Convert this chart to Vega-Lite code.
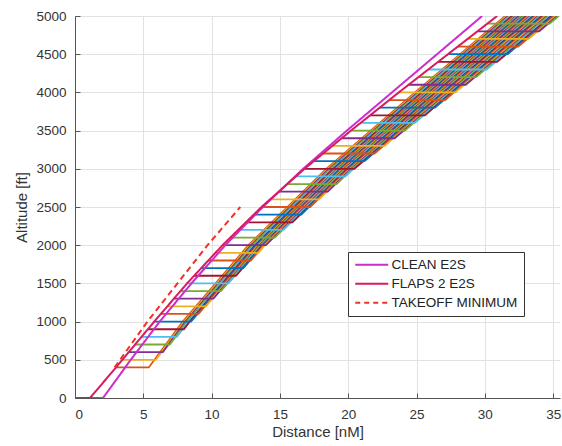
{
"$schema":"https://vega.github.io/schema/vega-lite/v6.json",
"width":485,"height":382,
"autosize":{"type":"none"},
"padding":{"left":75,"top":16,"right":2,"bottom":48},
"background":"white",
"config":{
 "view":{"stroke":null},
 "font":"Liberation Sans",
 "axis":{"grid":true,"gridColor":"#e2e2e2","gridWidth":1,"domainColor":"#555555","tickColor":"#555555","tickSize":-5,"labelPadding":14,"labelFontSize":13.5,"labelColor":"#333333","titleFontSize":15,"titleFontWeight":"normal","titleColor":"#333333","labelFont":"Liberation Sans","titleFont":"Liberation Sans"},
 "legend":{"orient":"none","legendX":273,"legendY":236,"fillColor":"white","strokeColor":"#333333","strokeWidth":1,"padding":6,"symbolType":"M-3,0H3","symbolSize":121,"symbolOffset":11,"symbolStrokeWidth":2,"labelFontSize":13.5,"labelColor":"#222222","labelFont":"Liberation Sans","labelOffset":13,"rowPadding":4}
},
"datasets":{
"fam":[
{"s":400,"o":0,"x":3.0,"y":400},{"s":400,"o":1,"x":5.40,"y":400},{"s":400,"o":2,"x":7.89,"y":1000},{"s":400,"o":3,"x":12.69,"y":2000},{"s":400,"o":4,"x":18.39,"y":3000},{"s":400,"o":5,"x":24.89,"y":4000},{"s":400,"o":6,"x":31.49,"y":5000},
{"s":500,"o":0,"x":3.47,"y":500},{"s":500,"o":1,"x":5.92,"y":500},{"s":500,"o":2,"x":7.99,"y":1000},{"s":500,"o":3,"x":12.79,"y":2000},{"s":500,"o":4,"x":18.49,"y":3000},{"s":500,"o":5,"x":24.99,"y":4000},{"s":500,"o":6,"x":31.59,"y":5000},
{"s":600,"o":0,"x":3.93,"y":600},{"s":600,"o":1,"x":6.43,"y":600},{"s":600,"o":2,"x":8.09,"y":1000},{"s":600,"o":3,"x":12.89,"y":2000},{"s":600,"o":4,"x":18.59,"y":3000},{"s":600,"o":5,"x":25.09,"y":4000},{"s":600,"o":6,"x":31.69,"y":5000},
{"s":700,"o":0,"x":4.40,"y":700},{"s":700,"o":1,"x":6.94,"y":700},{"s":700,"o":2,"x":8.19,"y":1000},{"s":700,"o":3,"x":12.99,"y":2000},{"s":700,"o":4,"x":18.69,"y":3000},{"s":700,"o":5,"x":25.19,"y":4000},{"s":700,"o":6,"x":31.79,"y":5000},
{"s":800,"o":0,"x":4.87,"y":800},{"s":800,"o":1,"x":7.46,"y":800},{"s":800,"o":2,"x":8.29,"y":1000},{"s":800,"o":3,"x":13.09,"y":2000},{"s":800,"o":4,"x":18.79,"y":3000},{"s":800,"o":5,"x":25.29,"y":4000},{"s":800,"o":6,"x":31.89,"y":5000},
{"s":900,"o":0,"x":5.33,"y":900},{"s":900,"o":1,"x":7.97,"y":900},{"s":900,"o":2,"x":8.39,"y":1000},{"s":900,"o":3,"x":13.19,"y":2000},{"s":900,"o":4,"x":18.89,"y":3000},{"s":900,"o":5,"x":25.39,"y":4000},{"s":900,"o":6,"x":31.99,"y":5000},
{"s":1000,"o":0,"x":5.80,"y":1000},{"s":1000,"o":1,"x":8.49,"y":1000},{"s":1000,"o":3,"x":13.29,"y":2000},{"s":1000,"o":4,"x":18.99,"y":3000},{"s":1000,"o":5,"x":25.49,"y":4000},{"s":1000,"o":6,"x":32.09,"y":5000},
{"s":1100,"o":0,"x":6.28,"y":1100},{"s":1100,"o":1,"x":9.04,"y":1100},{"s":1100,"o":3,"x":13.36,"y":2000},{"s":1100,"o":4,"x":19.06,"y":3000},{"s":1100,"o":5,"x":25.56,"y":4000},{"s":1100,"o":6,"x":32.16,"y":5000},
{"s":1200,"o":0,"x":6.76,"y":1200},{"s":1200,"o":1,"x":9.58,"y":1200},{"s":1200,"o":3,"x":13.42,"y":2000},{"s":1200,"o":4,"x":19.12,"y":3000},{"s":1200,"o":5,"x":25.62,"y":4000},{"s":1200,"o":6,"x":32.22,"y":5000},
{"s":1300,"o":0,"x":7.24,"y":1300},{"s":1300,"o":1,"x":10.13,"y":1300},{"s":1300,"o":3,"x":13.49,"y":2000},{"s":1300,"o":4,"x":19.19,"y":3000},{"s":1300,"o":5,"x":25.69,"y":4000},{"s":1300,"o":6,"x":32.29,"y":5000},
{"s":1400,"o":0,"x":7.72,"y":1400},{"s":1400,"o":1,"x":10.68,"y":1400},{"s":1400,"o":3,"x":13.56,"y":2000},{"s":1400,"o":4,"x":19.26,"y":3000},{"s":1400,"o":5,"x":25.76,"y":4000},{"s":1400,"o":6,"x":32.36,"y":5000},
{"s":1500,"o":0,"x":8.20,"y":1500},{"s":1500,"o":1,"x":11.23,"y":1500},{"s":1500,"o":3,"x":13.63,"y":2000},{"s":1500,"o":4,"x":19.33,"y":3000},{"s":1500,"o":5,"x":25.83,"y":4000},{"s":1500,"o":6,"x":32.43,"y":5000},
{"s":1600,"o":0,"x":8.72,"y":1600},{"s":1600,"o":1,"x":11.78,"y":1600},{"s":1600,"o":3,"x":13.70,"y":2000},{"s":1600,"o":4,"x":19.40,"y":3000},{"s":1600,"o":5,"x":25.90,"y":4000},{"s":1600,"o":6,"x":32.50,"y":5000},
{"s":1700,"o":0,"x":9.24,"y":1700},{"s":1700,"o":1,"x":12.32,"y":1700},{"s":1700,"o":3,"x":13.76,"y":2000},{"s":1700,"o":4,"x":19.46,"y":3000},{"s":1700,"o":5,"x":25.96,"y":4000},{"s":1700,"o":6,"x":32.56,"y":5000},
{"s":1800,"o":0,"x":9.76,"y":1800},{"s":1800,"o":1,"x":12.87,"y":1800},{"s":1800,"o":3,"x":13.83,"y":2000},{"s":1800,"o":4,"x":19.53,"y":3000},{"s":1800,"o":5,"x":26.03,"y":4000},{"s":1800,"o":6,"x":32.63,"y":5000},
{"s":1900,"o":0,"x":10.28,"y":1900},{"s":1900,"o":1,"x":13.42,"y":1900},{"s":1900,"o":3,"x":13.90,"y":2000},{"s":1900,"o":4,"x":19.60,"y":3000},{"s":1900,"o":5,"x":26.10,"y":4000},{"s":1900,"o":6,"x":32.70,"y":5000},
{"s":2000,"o":0,"x":10.80,"y":2000},{"s":2000,"o":1,"x":13.97,"y":2000},{"s":2000,"o":4,"x":19.67,"y":3000},{"s":2000,"o":5,"x":26.17,"y":4000},{"s":2000,"o":6,"x":32.77,"y":5000},
{"s":2100,"o":0,"x":11.37,"y":2100},{"s":2100,"o":1,"x":14.62,"y":2100},{"s":2100,"o":4,"x":19.75,"y":3000},{"s":2100,"o":5,"x":26.25,"y":4000},{"s":2100,"o":6,"x":32.85,"y":5000},
{"s":2200,"o":0,"x":11.94,"y":2200},{"s":2200,"o":1,"x":15.26,"y":2200},{"s":2200,"o":4,"x":19.82,"y":3000},{"s":2200,"o":5,"x":26.32,"y":4000},{"s":2200,"o":6,"x":32.92,"y":5000},
{"s":2300,"o":0,"x":12.51,"y":2300},{"s":2300,"o":1,"x":15.91,"y":2300},{"s":2300,"o":4,"x":19.90,"y":3000},{"s":2300,"o":5,"x":26.40,"y":4000},{"s":2300,"o":6,"x":33.00,"y":5000},
{"s":2400,"o":0,"x":13.08,"y":2400},{"s":2400,"o":1,"x":16.56,"y":2400},{"s":2400,"o":4,"x":19.98,"y":3000},{"s":2400,"o":5,"x":26.48,"y":4000},{"s":2400,"o":6,"x":33.08,"y":5000},
{"s":2500,"o":0,"x":13.65,"y":2500},{"s":2500,"o":1,"x":17.21,"y":2500},{"s":2500,"o":4,"x":20.06,"y":3000},{"s":2500,"o":5,"x":26.56,"y":4000},{"s":2500,"o":6,"x":33.16,"y":5000},
{"s":2600,"o":0,"x":14.28,"y":2600},{"s":2600,"o":1,"x":17.86,"y":2600},{"s":2600,"o":4,"x":20.14,"y":3000},{"s":2600,"o":5,"x":26.64,"y":4000},{"s":2600,"o":6,"x":33.24,"y":5000},
{"s":2700,"o":0,"x":14.91,"y":2700},{"s":2700,"o":1,"x":18.50,"y":2700},{"s":2700,"o":4,"x":20.21,"y":3000},{"s":2700,"o":5,"x":26.71,"y":4000},{"s":2700,"o":6,"x":33.31,"y":5000},
{"s":2800,"o":0,"x":15.54,"y":2800},{"s":2800,"o":1,"x":19.15,"y":2800},{"s":2800,"o":4,"x":20.29,"y":3000},{"s":2800,"o":5,"x":26.79,"y":4000},{"s":2800,"o":6,"x":33.39,"y":5000},
{"s":2900,"o":0,"x":16.17,"y":2900},{"s":2900,"o":1,"x":19.80,"y":2900},{"s":2900,"o":4,"x":20.37,"y":3000},{"s":2900,"o":5,"x":26.87,"y":4000},{"s":2900,"o":6,"x":33.47,"y":5000},
{"s":3000,"o":0,"x":16.80,"y":3000},{"s":3000,"o":1,"x":20.45,"y":3000},{"s":3000,"o":5,"x":26.95,"y":4000},{"s":3000,"o":6,"x":33.55,"y":5000},
{"s":3100,"o":0,"x":17.48,"y":3100},{"s":3100,"o":1,"x":21.19,"y":3100},{"s":3100,"o":5,"x":27.04,"y":4000},{"s":3100,"o":6,"x":33.64,"y":5000},
{"s":3200,"o":0,"x":18.16,"y":3200},{"s":3200,"o":1,"x":21.92,"y":3200},{"s":3200,"o":5,"x":27.12,"y":4000},{"s":3200,"o":6,"x":33.72,"y":5000},
{"s":3300,"o":0,"x":18.84,"y":3300},{"s":3300,"o":1,"x":22.66,"y":3300},{"s":3300,"o":5,"x":27.21,"y":4000},{"s":3300,"o":6,"x":33.81,"y":5000},
{"s":3400,"o":0,"x":19.52,"y":3400},{"s":3400,"o":1,"x":23.40,"y":3400},{"s":3400,"o":5,"x":27.30,"y":4000},{"s":3400,"o":6,"x":33.90,"y":5000},
{"s":3500,"o":0,"x":20.20,"y":3500},{"s":3500,"o":1,"x":24.14,"y":3500},{"s":3500,"o":5,"x":27.39,"y":4000},{"s":3500,"o":6,"x":33.99,"y":5000},
{"s":3600,"o":0,"x":20.90,"y":3600},{"s":3600,"o":1,"x":24.88,"y":3600},{"s":3600,"o":5,"x":27.48,"y":4000},{"s":3600,"o":6,"x":34.08,"y":5000},
{"s":3700,"o":0,"x":21.60,"y":3700},{"s":3700,"o":1,"x":25.61,"y":3700},{"s":3700,"o":5,"x":27.56,"y":4000},{"s":3700,"o":6,"x":34.16,"y":5000},
{"s":3800,"o":0,"x":22.30,"y":3800},{"s":3800,"o":1,"x":26.35,"y":3800},{"s":3800,"o":5,"x":27.65,"y":4000},{"s":3800,"o":6,"x":34.25,"y":5000},
{"s":3900,"o":0,"x":23.00,"y":3900},{"s":3900,"o":1,"x":27.09,"y":3900},{"s":3900,"o":5,"x":27.74,"y":4000},{"s":3900,"o":6,"x":34.34,"y":5000},
{"s":4000,"o":0,"x":23.70,"y":4000},{"s":4000,"o":1,"x":27.83,"y":4000},{"s":4000,"o":6,"x":34.43,"y":5000},
{"s":4100,"o":0,"x":24.42,"y":4100},{"s":4100,"o":1,"x":28.60,"y":4100},{"s":4100,"o":6,"x":34.54,"y":5000},
{"s":4200,"o":0,"x":25.14,"y":4200},{"s":4200,"o":1,"x":29.36,"y":4200},{"s":4200,"o":6,"x":34.64,"y":5000},
{"s":4300,"o":0,"x":25.86,"y":4300},{"s":4300,"o":1,"x":30.13,"y":4300},{"s":4300,"o":6,"x":34.75,"y":5000},
{"s":4400,"o":0,"x":26.58,"y":4400},{"s":4400,"o":1,"x":30.90,"y":4400},{"s":4400,"o":6,"x":34.86,"y":5000},
{"s":4500,"o":0,"x":27.30,"y":4500},{"s":4500,"o":1,"x":31.67,"y":4500},{"s":4500,"o":6,"x":34.97,"y":5000},
{"s":4600,"o":0,"x":28.02,"y":4600},{"s":4600,"o":1,"x":32.44,"y":4600},{"s":4600,"o":6,"x":35.08,"y":5000},
{"s":4700,"o":0,"x":28.74,"y":4700},{"s":4700,"o":1,"x":33.20,"y":4700},{"s":4700,"o":6,"x":35.18,"y":5000},
{"s":4800,"o":0,"x":29.46,"y":4800},{"s":4800,"o":1,"x":33.97,"y":4800},{"s":4800,"o":6,"x":35.29,"y":5000},
{"s":4900,"o":0,"x":30.18,"y":4900},{"s":4900,"o":1,"x":34.74,"y":4900},{"s":4900,"o":6,"x":35.40,"y":5000}
],
"ref":[
{"n":"CLEAN E2S","o":0,"x":0,"y":0},{"n":"CLEAN E2S","o":1,"x":2.05,"y":0},{"n":"CLEAN E2S","o":2,"x":4.08,"y":500},{"n":"CLEAN E2S","o":3,"x":6.2,"y":1000},{"n":"CLEAN E2S","o":4,"x":8.52,"y":1500},{"n":"CLEAN E2S","o":5,"x":11.0,"y":2000},{"n":"CLEAN E2S","o":6,"x":13.75,"y":2500},{"n":"CLEAN E2S","o":7,"x":16.7,"y":3000},{"n":"CLEAN E2S","o":8,"x":19.9,"y":3500},{"n":"CLEAN E2S","o":9,"x":23.2,"y":4000},{"n":"CLEAN E2S","o":10,"x":26.5,"y":4500},{"n":"CLEAN E2S","o":11,"x":29.8,"y":5000},
{"n":"FLAPS 2 E2S","o":0,"x":0,"y":0},{"n":"FLAPS 2 E2S","o":1,"x":1.1,"y":0},{"n":"FLAPS 2 E2S","o":2,"x":3.0,"y":400},{"n":"FLAPS 2 E2S","o":3,"x":5.8,"y":1000},{"n":"FLAPS 2 E2S","o":4,"x":8.2,"y":1500},{"n":"FLAPS 2 E2S","o":5,"x":10.8,"y":2000},{"n":"FLAPS 2 E2S","o":6,"x":13.65,"y":2500},{"n":"FLAPS 2 E2S","o":7,"x":16.8,"y":3000},{"n":"FLAPS 2 E2S","o":8,"x":20.2,"y":3500},{"n":"FLAPS 2 E2S","o":9,"x":23.7,"y":4000},{"n":"FLAPS 2 E2S","o":10,"x":27.3,"y":4500},{"n":"FLAPS 2 E2S","o":11,"x":30.9,"y":5000},
{"n":"TAKEOFF MINIMUM","o":0,"x":2.9,"y":400},{"n":"TAKEOFF MINIMUM","o":1,"x":5.3,"y":1000},{"n":"TAKEOFF MINIMUM","o":2,"x":7.5,"y":1500},{"n":"TAKEOFF MINIMUM","o":3,"x":9.7,"y":2000},{"n":"TAKEOFF MINIMUM","o":4,"x":12.1,"y":2500}
]
},
"layer":[
{"data":{"name":"fam"},
 "mark":{"type":"line","strokeWidth":1.8,"clip":true},
 "encoding":{
  "x":{"field":"x","type":"quantitative","scale":{"domain":[0,35.5],"nice":false,"zero":false},"axis":{"title":"Distance [nM]","values":[0,5,10,15,20,25,30,35],"titlePadding":4}},
  "y":{"field":"y","type":"quantitative","scale":{"domain":[0,5000],"nice":false},"axis":{"title":"Altitude [ft]","format":"d","values":[0,500,1000,1500,2000,2500,3000,3500,4000,4500,5000],"titlePadding":6}},
  "color":{"field":"s","type":"nominal","legend":null,"scale":{"domain":[400,500,600,700,800,900,1000,1100,1200,1300,1400,1500,1600,1700,1800,1900,2000,2100,2200,2300,2400,2500,2600,2700,2800,2900,3000,3100,3200,3300,3400,3500,3600,3700,3800,3900,4000,4100,4200,4300,4400,4500,4600,4700,4800,4900],
   "range":["#D95319","#EDB120","#7E2F8E","#77AC30","#4DBEEE","#A2142F","#0072BD","#D95319","#EDB120","#7E2F8E","#77AC30","#4DBEEE","#A2142F","#0072BD","#D95319","#EDB120","#7E2F8E","#77AC30","#4DBEEE","#A2142F","#0072BD","#D95319","#EDB120","#7E2F8E","#77AC30","#4DBEEE","#A2142F","#0072BD","#D95319","#EDB120","#7E2F8E","#77AC30","#4DBEEE","#A2142F","#0072BD","#D95319","#EDB120","#7E2F8E","#77AC30","#4DBEEE","#A2142F","#0072BD","#D95319","#EDB120","#7E2F8E","#77AC30"]}},
  "order":{"field":"o","type":"quantitative"}
 }},
{"data":{"name":"ref"},
 "mark":{"type":"line","strokeWidth":2,"clip":true},
 "encoding":{
  "x":{"field":"x","type":"quantitative","scale":{"domain":[0,35.5],"nice":false,"zero":false},"axis":{"title":"Distance [nM]","values":[0,5,10,15,20,25,30,35],"titlePadding":4}},
  "y":{"field":"y","type":"quantitative","scale":{"domain":[0,5000],"nice":false},"axis":{"title":"Altitude [ft]","format":"d","values":[0,500,1000,1500,2000,2500,3000,3500,4000,4500,5000],"titlePadding":6}},
  "color":{"field":"n","type":"nominal","scale":{"domain":["CLEAN E2S","FLAPS 2 E2S","TAKEOFF MINIMUM"],"range":["#CC2DCC","#D81B60","#F0302A"]},"legend":{"title":null,"encode":{"symbols":{"update":{"strokeDash":{"signal":"datum.value === 'TAKEOFF MINIMUM' ? [5,4] : [1,0]"}}}}}},
  "strokeDash":{"field":"n","type":"nominal","scale":{"domain":["CLEAN E2S","FLAPS 2 E2S","TAKEOFF MINIMUM"],"range":[[1,0],[1,0],[6,4]]},"legend":null},
  "order":{"field":"o","type":"quantitative"}
 }}
],
"resolve":{"scale":{"color":"independent"}}
}
